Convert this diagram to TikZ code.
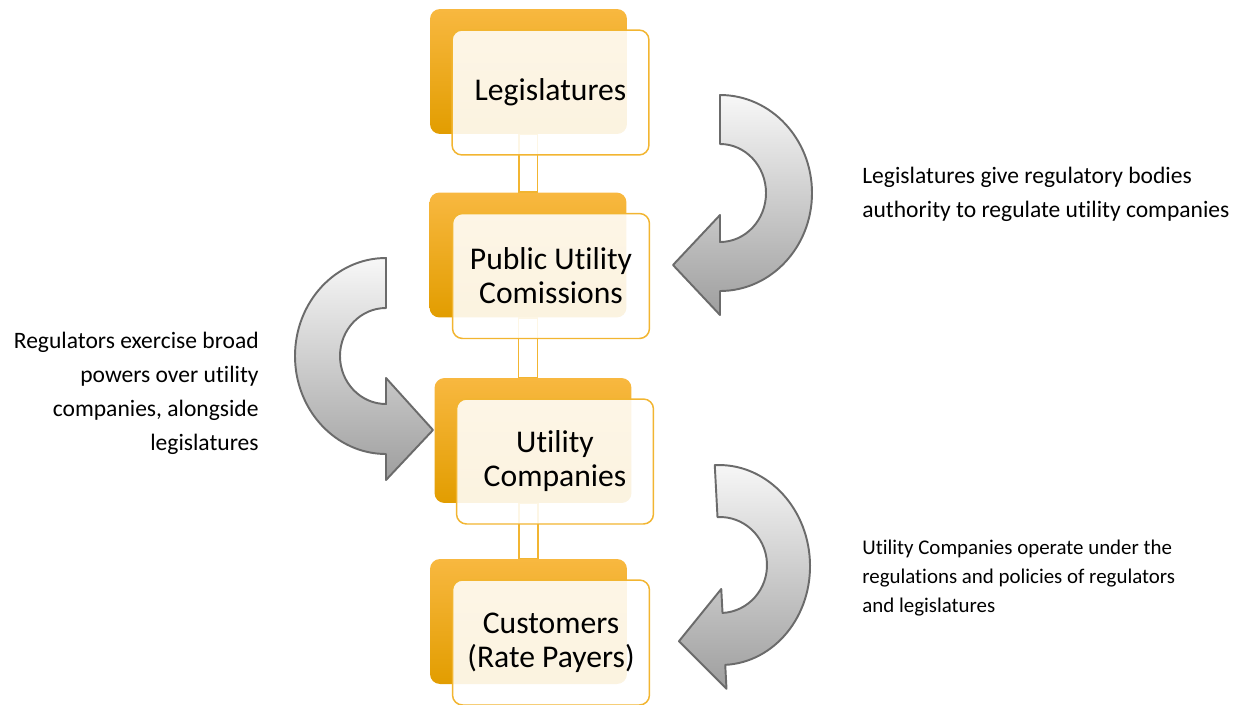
\documentclass[tikz,border=0pt]{standalone}
\usepackage{fontspec}
\setmainfont{Carlito}[Ligatures={NoCommon,NoContextual}]
\definecolor{boxtop}{HTML}{F8B840}
\definecolor{boxmid}{HTML}{FFB200}
\definecolor{boxbot}{HTML}{E29D00}
\definecolor{boxline}{HTML}{F2B531}
\definecolor{arrline}{HTML}{6B6B6B}
\tikzset{
  backbox/.style={rectangle, rounded corners=0.2cm, minimum width=3.94cm, minimum height=2.5cm,
    inner sep=0pt, top color=boxtop, middle color=boxmid, bottom color=boxbot},
  frontbox/.style={rectangle, rounded corners=0.2cm, minimum width=3.94cm, minimum height=2.5cm,
    inner sep=0pt, draw=boxline, line width=0.85pt, fill=white, fill opacity=0.88, text opacity=1,
    align=center, font=\fontsize{18}{19.3}\selectfont},
  link/.style={draw=boxline, line width=0.8pt, fill=white},
  bendarrow/.style={draw=arrline, line width=1.1pt, line join=round, top color=black!3, bottom color=black!38},
  note/.style={inner sep=0pt, font=\fontsize{13.4}{19.4}\selectfont},
  smallnote/.style={inner sep=0pt, font=\fontsize{11.9}{16.7}\selectfont}
}
\begin{document}
\begin{tikzpicture}[x=0.02cm,y=-0.02cm]
            \useasboundingbox (0,0) rectangle (1244,704);
            % back boxes
            \node[backbox] (legB) at (528.5,71.5) {};
            \node[backbox] (pucB) at (528,255) {};
            \node[backbox] (utiB) at (533,440.5) {};
            \node[backbox] (cusB) at (528.5,621.5) {};
            % links between the levels
            \draw[link] ([xshift=-0.19cm]legB.south) rectangle ([xshift=0.19cm]pucB.north);
            \draw[link] ([xshift=-0.19cm]pucB.south) rectangle ([xshift=0.19cm]pucB.south |- utiB.north);
            \draw[link] ([xshift=-0.19cm]cusB.north |- utiB.south) rectangle ([xshift=0.19cm]cusB.north);
            % front boxes
            \node[frontbox] (leg) at (550.5,92.5) {Legislatures};
            \node[frontbox] (puc) at (551,276) {Public Utility\\Comissions};
            \node[frontbox] (uti) at (555,461.5) {Utility\\Companies};
            \node[frontbox] (cus) at (551,642.5) {Customers\\(Rate Payers)};
            % curved arrows
            \draw[bendarrow] (720,95) arc[start angle=-90, end angle=90, x radius=92, y radius=98]
                -- (720,315) -- (673,265) -- (720,215) -- (720,242)
                arc[start angle=90, end angle=-90, x radius=46, y radius=49] -- cycle;
            \draw[bendarrow] (386,258) arc[start angle=-90, end angle=-270, x radius=91, y radius=98]
                -- (386,480) -- (433,430) -- (386,378) -- (386,404)
                arc[start angle=90, end angle=270, x radius=46, y radius=48] -- cycle;
            \begin{scope}[rotate around={3:(720,565)}]
            \draw[bendarrow] (720,465) arc[start angle=-90, end angle=90, x radius=90, y radius=100]
                -- (720,689) -- (675,639) -- (720,589) -- (720,613)
                arc[start angle=90, end angle=-90, x radius=47, y radius=48] -- cycle;
            \end{scope}
            % notes
            \node[note, anchor=west, align=left] (legnote) at (862,194.5)
                {Legislatures give regulatory bodies\\authority to regulate utility companies};
            \node[note, anchor=east, align=right] (pucnote) at (259,393)
                {Regulators exercise broad\\powers over utility\\companies, alongside\\legislatures};
            \node[smallnote, anchor=west, align=left] (utinote) at (862,578)
                {Utility Companies operate under the\\regulations and policies of regulators\\and legislatures};
        \end{tikzpicture}
\end{document}
